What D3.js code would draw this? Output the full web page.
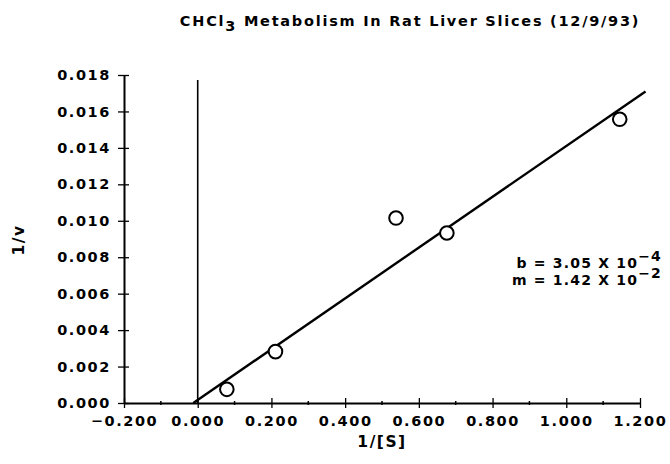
<!DOCTYPE html>
<html><head><meta charset="utf-8">
<script src="https://cdn.jsdelivr.net/npm/d3@7"></script>
<style>
body{margin:0;background:#fff;}
svg text{font-family:"DejaVu Sans",sans-serif;font-weight:bold;fill:#000;}
</style></head>
<body><svg id="c" width="670" height="464"></svg>
<script>
const invS = [0.079, 0.211, 0.538, 0.676, 1.145];
const invV = [0.00075, 0.00282, 0.01015, 0.00933, 0.01557];
const xTicks = [-0.2, 0, 0.2, 0.4, 0.6, 0.8, 1.0, 1.2];
const xMinor = [-0.1, 0.1, 0.3, 0.5, 0.7, 0.9, 1.1];
const yTicks = [0, 0.002, 0.004, 0.006, 0.008, 0.010, 0.012, 0.014, 0.016, 0.018];
const fitLineX = [-0.012, 1.215];
const fitLineY = [0.0, 0.0171];
const title = "CHCl";
const annB = ["b = 3.05 X 10", "\u22124"];
const annM = ["m = 1.42 X 10", "\u22122"];

const svg = d3.select("#c");
const x = d3.scaleLinear().domain([-0.2, 1.2]).range([124, 640]);
const y = d3.scaleLinear().domain([0, 0.018]).range([403, 75]);

// axes
const xAxis = d3.axisBottom(x).tickValues(xTicks).tickSizeInner(6).tickSizeOuter(0).tickPadding(10)
  .tickFormat(d => (d < 0 ? "\u2212" : "") + Math.abs(d).toFixed(3));
const gx = svg.append("g").attr("transform", `translate(0,${y(0)})`).call(xAxis);
gx.select(".domain").attr("stroke-width", 2);
gx.selectAll(".tick line").attr("y1", -5).attr("y2", 5).attr("stroke-width", 1.3);
gx.selectAll(".tick text").attr("font-size", 14.5).attr("letter-spacing", 1.6).attr("dy", "0.5em");
gx.selectAll(".minor").data(xMinor).enter().append("line")
  .attr("x1", d => x(d)).attr("x2", d => x(d)).attr("y1", -2).attr("y2", 2).attr("stroke", "#000").attr("stroke-width", 1.5);

const yAxis = d3.axisLeft(y).tickValues(yTicks).tickSizeInner(6).tickSizeOuter(0).tickPadding(7)
  .tickFormat(d3.format(".3f"));
const gy = svg.append("g").attr("transform", `translate(${x(-0.2)},0)`).call(yAxis);
gy.select(".domain").attr("stroke-width", 2);
gy.selectAll(".tick line").attr("x1", -6).attr("x2", 5).attr("stroke-width", 1.3);
gy.selectAll(".tick text").attr("font-size", 14.5).attr("letter-spacing", 1.6);
svg.selectAll("g.tick text").style("font-family", "'DejaVu Sans',sans-serif").style("font-weight", "bold");

// vertical line at x = 0
svg.append("line").attr("x1", x(0)).attr("x2", x(0)).attr("y1", 80).attr("y2", y(0))
  .attr("stroke", "#000").attr("stroke-width", 1.6);

// fit line
svg.append("line").attr("x1", x(fitLineX[0])).attr("y1", y(fitLineY[0]))
  .attr("x2", x(fitLineX[1])).attr("y2", y(fitLineY[1]))
  .attr("stroke", "#000").attr("stroke-width", 2.4);

// points
svg.selectAll("circle.pt").data(invS).enter().append("circle")
  .attr("cx", d => x(d)).attr("cy", (d, i) => y(invV[i])).attr("r", 6.8)
  .attr("fill", "#fff").attr("stroke", "#000").attr("stroke-width", 2);

// title
const t = svg.append("text").attr("x", 410).attr("y", 26).attr("text-anchor", "middle")
  .attr("font-size", 14.5).attr("letter-spacing", 1.75);
t.append("tspan").text(title);
t.append("tspan").attr("dy", 5).text("3");
t.append("tspan").attr("dy", -5).text(" Metabolism In Rat Liver Slices (12/9/93)");

// axis labels
svg.append("text").attr("x", 382).attr("y", 447).attr("text-anchor", "middle")
  .attr("font-size", 15.5).attr("letter-spacing", 1.5).text("1/[S]");
svg.append("text").attr("transform", "translate(24,240) rotate(-90)").attr("text-anchor", "middle")
  .attr("font-size", 15.5).attr("letter-spacing", 1.5).text("1/v");

// annotation
[[annB, 268], [annM, 285]].forEach(([a, yy]) => {
  const tt = svg.append("text").attr("x", 662).attr("y", yy).attr("text-anchor", "end")
    .attr("font-size", 14).attr("letter-spacing", 1.2);
  tt.append("tspan").text(a[0]);
  tt.append("tspan").attr("dy", -7).text(a[1]);
});
</script></body></html>
